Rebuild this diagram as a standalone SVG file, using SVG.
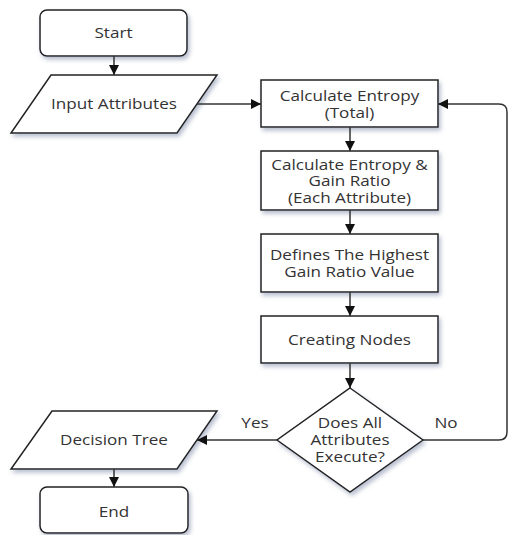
<svg xmlns="http://www.w3.org/2000/svg" width="510" height="535" viewBox="0 0 510 535">
<defs>
<filter id="sh" x="-10%" y="-10%" width="130%" height="140%">
<feDropShadow dx="2" dy="3" stdDeviation="2" flood-color="#7f8aa8" flood-opacity="0.55"/>
</filter>
<marker id="ah" viewBox="0 0 10 10" refX="10" refY="5" markerWidth="10" markerHeight="10" markerUnits="userSpaceOnUse" orient="auto">
<path d="M0,0 L10,5 L0,10 z" fill="#111"/>
</marker>
</defs>
<style>
.n{fill:#fff;stroke:#222;stroke-width:1.5;filter:url(#sh)}
.t{font-family:"Open Sans","DejaVu Sans",sans-serif;font-size:15px;font-weight:500;fill:#333;text-anchor:middle}
.c{fill:none;stroke:#333;stroke-width:1.5;marker-end:url(#ah)}
</style>
<g id="start"><rect class="n" x="40" y="10" width="147" height="46" rx="7"/><text class="t" transform="matrix(1.14 0 0 1 113.5 0)" x="0" y="38">Start</text></g>
<g id="input"><polygon class="n" points="51,75 217,75 177,133 11,133"/><text class="t" transform="matrix(1.14 0 0 1 114 0)" x="0" y="109">Input Attributes</text></g>
<g id="entropy-total"><rect class="n" x="261" y="80" width="177" height="47"/><text class="t" transform="matrix(1.14 0 0 1 349.5 0)" x="0" y="101">Calculate Entropy</text><text class="t" transform="matrix(1.14 0 0 1 349.5 0)" x="0" y="118">(Total)</text></g>
<g id="entropy-each"><rect class="n" x="261" y="151" width="177" height="59"/><text class="t" transform="matrix(1.14 0 0 1 349.5 0)" x="0" y="170">Calculate Entropy &amp;</text><text class="t" transform="matrix(1.14 0 0 1 349.5 0)" x="0" y="186">Gain Ratio</text><text class="t" transform="matrix(1.14 0 0 1 349.5 0)" x="0" y="203">(Each Attribute)</text></g>
<g id="highest"><rect class="n" x="261" y="234" width="177" height="58"/><text class="t" transform="matrix(1.14 0 0 1 349.5 0)" x="0" y="260">Defines The Highest</text><text class="t" transform="matrix(1.14 0 0 1 349.5 0)" x="0" y="277">Gain Ratio Value</text></g>
<g id="nodes"><rect class="n" x="261" y="316" width="177" height="47"/><text class="t" transform="matrix(1.14 0 0 1 349.5 0)" x="0" y="345">Creating Nodes</text></g>
<g id="decision"><polygon class="n" points="350,388 423,440 350,492 277,440"/><text class="t" transform="matrix(1.14 0 0 1 350 0)" x="0" y="428">Does All</text><text class="t" transform="matrix(1.14 0 0 1 350 0)" x="0" y="445">Attributes</text><text class="t" transform="matrix(1.14 0 0 1 350 0)" x="0" y="462">Execute?</text></g>
<g id="tree"><polygon class="n" points="52,411 217,411 177,469 11,469"/><text class="t" transform="matrix(1.14 0 0 1 114 0)" x="0" y="445">Decision Tree</text></g>
<g id="end"><rect class="n" x="40" y="487" width="148" height="46" rx="7"/><text class="t" transform="matrix(1.14 0 0 1 114 0)" x="0" y="517">End</text></g>
<g id="connectors">
<path class="c" d="M114,56 V75"/>
<path class="c" d="M197,104 H261"/>
<path class="c" d="M350,127 V151"/>
<path class="c" d="M350,210 V234"/>
<path class="c" d="M350,292 V316"/>
<path class="c" d="M350,363 V388"/>
<path class="c" d="M277,440 H197"/>
<path class="c" d="M114,469 V487"/>
<path class="c" d="M423,440 H499 Q507,440 507,432 V112 Q507,104 499,104 H438"/>
<text class="t" transform="matrix(1.14 0 0 1 255 0)" x="0" y="428">Yes</text>
<text class="t" transform="matrix(1.14 0 0 1 446 0)" x="0" y="428">No</text>
</g>
</svg>
